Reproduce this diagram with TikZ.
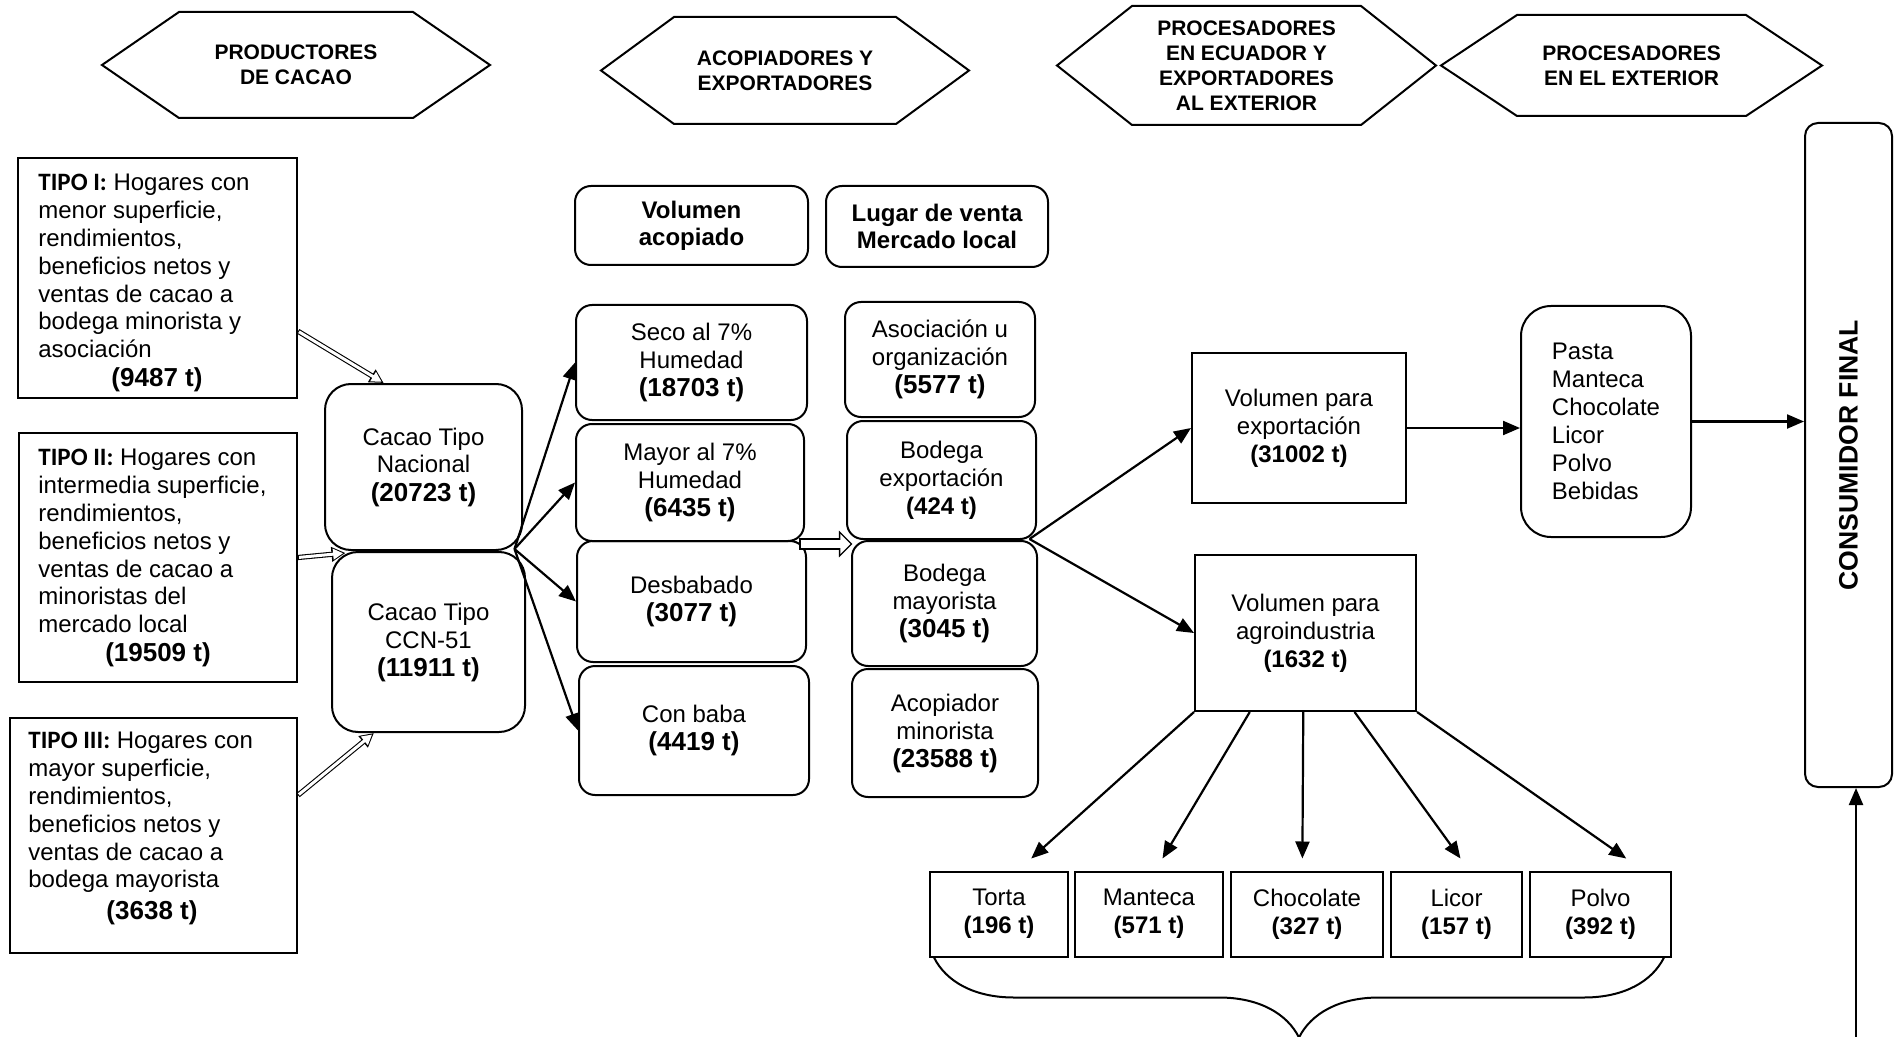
\documentclass[tikz,border=0pt]{standalone}
\usepackage{fontspec}
\setmainfont{Liberation Sans}
\newfontfamily\tipofont{Carlito}
\usetikzlibrary{positioning, arrows.meta, calc, decorations.pathreplacing}

\newcommand{\tval}[1]{{\bfseries\fontsize{13}{15}\selectfont #1}}
\newcommand{\tipo}[1]{{\tipofont\bfseries\fontsize{12.5}{13.9}\selectfont #1}}

\tikzset{
  box/.style={draw, line width=1pt, inner sep=0pt, align=center, font=\fontsize{12}{14}\selectfont},
  rbox/.style={box, rounded corners=8pt},
  cbox/.style={box, rounded corners=13pt},
  hdrbox/.style={rbox, font=\bfseries\fontsize{12}{13.5}\selectfont},
  tipotxt/.style={inner sep=0pt, align=left, font=\fontsize{12}{13.9}\selectfont},
  hexline/.style={line width=1pt, line join=miter},
  hexlab/.style={inner sep=0pt, align=center, font=\bfseries\fontsize{10.5}{12.5}\selectfont},
  arr/.style={-{Triangle[length=8.5pt, width=7pt]}, line width=1.1pt},
  % outlined block arrows: black body, white inner body on top
  hollow/.style={preaction={draw=black, line width=2.6pt, shorten <=0pt, shorten >=0pt,
      -{Triangle[length=7pt, width=7pt]}},
    draw=white, line width=1.5pt, shorten <=0.55pt, shorten >=1.2pt,
    -{Triangle[length=5pt, width=5.2pt]}},
  hollowbig/.style={preaction={draw=black, line width=5.6pt, shorten <=0pt, shorten >=0pt,
      -{Triangle[length=6.8pt, width=13pt]}},
    draw=white, line width=4.1pt, shorten <=0.75pt, shorten >=1.05pt,
    -{Triangle[length=5pt, width=9.6pt]}},
}

\begin{document}
\begin{tikzpicture}[x=0.5pt, y=-0.5pt]
\fill[white] (0,0) rectangle (1898,1037);
\useasboundingbox (0,0) rectangle (1898,1037);

% headers
\foreach \xl/\xr/\yt/\yb/\d/\nm/\txt in {
  102/490/12/118/77/h1/{PRODUCTORES\\DE CACAO},
  601/969/17/124/73/h2/{ACOPIADORES Y\\EXPORTADORES},
  1057/1436/6/125/75/h3/{PROCESADORES\\EN ECUADOR Y\\EXPORTADORES\\AL EXTERIOR},
  1441/1822/15/116/76/h4/{PROCESADORES\\EN EL EXTERIOR}}
{
  \draw[hexline] (\xl,{(\yt+\yb)/2}) -- ({\xl+\d},\yt) -- ({\xr-\d},\yt) -- (\xr,{(\yt+\yb)/2})
    -- ({\xr-\d},\yb) -- ({\xl+\d},\yb) -- cycle;
  \node[hexlab] (\nm) at ({(\xl+\xr)/2},{(\yt+\yb)/2}) {\txt};
}

% productores
\node[box, minimum width=139.5pt, minimum height=120pt] (t1) at (157.5,278) {};
\node[tipotxt, anchor=north west] (t1txt) at ([xshift=10.5pt, yshift=-8.5pt]t1.north west)
  {\tipo{TIPO I:} Hogares con\\menor superficie,\\rendimientos,\\beneficios netos y\\ventas de cacao a\\bodega minorista y\\asociación};
\node[inner sep=0pt] (t1num) at (157,380) {\tval{(9487 t)}};

\node[box, minimum width=139pt, minimum height=124.5pt] (t2) at (158,557.5) {};
\node[tipotxt, anchor=north west] (t2txt) at ([xshift=10pt, yshift=-8.5pt]t2.north west)
  {\tipo{TIPO II:} Hogares con\\intermedia superficie,\\rendimientos,\\beneficios netos y\\ventas de cacao a\\minoristas del\\mercado local};
\node[inner sep=0pt] (t2num) at (158,655) {\tval{(19509 t)}};

\node[box, minimum width=143.5pt, minimum height=117.5pt] (t3) at (153.5,835.5) {};
\node[tipotxt, anchor=north west] (t3txt) at ([xshift=9.5pt, yshift=-7.5pt]t3.north west)
  {\tipo{TIPO III:} Hogares con\\mayor superficie,\\rendimientos,\\beneficios netos y\\ventas de cacao a\\bodega mayorista};
\node[inner sep=0pt] (t3num) at (152,913) {\tval{(3638 t)}};

\node[cbox, minimum width=98.5pt, minimum height=83pt] (nac) at (423.5,467) {Cacao Tipo\\Nacional\\\tval{(20723 t)}};
\node[cbox, minimum width=96.5pt, minimum height=90pt] (ccn) at (428.5,642) {Cacao Tipo\\CCN-51\\\tval{(11911 t)}};

% acopiadores
\node[hdrbox, minimum width=116.5pt, minimum height=39.5pt] (hv) at (691.5,225.5) {Volumen\\acopiado};
\node[hdrbox, minimum width=111pt, minimum height=40.5pt] (hl) at (937,226.5) {Lugar de venta\\Mercado local};

\node[rbox, minimum width=115.5pt, minimum height=57.5pt] (seco) at (691.5,362.5) {Seco al 7\%\\Humedad\\\tval{(18703 t)}};
\node[rbox, minimum width=114pt, minimum height=58.5pt] (mayor) at (690,482.5) {Mayor al 7\%\\Humedad\\\tval{(6435 t)}};
\node[rbox, minimum width=114.5pt, minimum height=60.5pt] (desb) at (691.5,601.5) {Desbabado\\\tval{(3077 t)}};
\node[rbox, minimum width=115pt, minimum height=64.5pt] (conb) at (694,730.5) {Con baba\\\tval{(4419 t)}};

\node[rbox, minimum width=95pt, minimum height=57.5pt] (asoc) at (940,359.5) {Asociación u\\organización\\\tval{(5577 t)}};
\node[rbox, minimum width=94.5pt, minimum height=59pt] (bexp) at (941.5,480) {Bodega\\exportación\\\textbf{(424 t)}};
\node[rbox, minimum width=92.5pt, minimum height=62.5pt] (bmay) at (944.5,603.5) {Bodega\\mayorista\\\tval{(3045 t)}};
\node[rbox, minimum width=93pt, minimum height=64pt] (acop) at (945,733) {Acopiador\\minorista\\\tval{(23588 t)}};

% procesadores
\node[box, minimum width=107pt, minimum height=75pt] (exp) at (1299,428) {Volumen para\\exportación\\\textbf{(31002 t)}};
\node[box, minimum width=110.5pt, minimum height=78pt] (agro) at (1305.5,633) {Volumen para\\agroindustria\\\textbf{(1632 t)}};
\node[box, rounded corners=15pt, minimum width=85pt, minimum height=115.5pt, align=left] (pasta) at (1606,421.5)
  {Pasta\\Manteca\\Chocolate\\Licor\\Polvo\\Bebidas};
\node[box, rounded corners=6.5pt, minimum width=43.5pt, minimum height=332pt,
  font=\bfseries\fontsize{13.3}{15}\selectfont] (cons) at (1848.5,455) {\rotatebox{90}{CONSUMIDOR FINAL}};

\foreach \nm/\xx/\ww/\lab/\val in {torta/999/69/Torta/196, mant/1149/74/Manteca/571,
    choc/1307/76/Chocolate/327, licor/1456.5/65.5/Licor/157, polvo/1600.5/70.5/Polvo/392}
  \node[box, minimum width=\ww pt, minimum height=42.5pt] (\nm) at (\xx,914) {\lab\\\textbf{(\val\ t)}};

% junctions
\coordinate (cj) at ($(nac.south east)!0.5!(ccn.north east)+(-10,-2)$);
\coordinate (mj) at ($(mayor.south east)!0.5!(desb.north east)+(-7,3)$);
\coordinate (bj) at ($(bexp.south east)!0.5!(bmay.north east)+(-8,-1)$);
\coordinate (bl) at ($(bexp.south west)!0.5!(bmay.north west)+(4,4)$);
\coordinate (cbot) at (1856,1037);

% connectors
\draw[hollow] ($(t1.north east)!0.72!(t1.south east)$) -- ($(nac.north west)!0.3!(nac.north east)$);
\draw[hollow] (t2.east) -- ($(nac.south west)!0.5!(ccn.north west)+(18,2)$);
\draw[hollow] ($(t3.north east)!0.33!(t3.south east)$) -- ($(ccn.south west)!0.22!(ccn.south east)$);

\foreach \b in {seco,mayor,desb,conb}
  \draw[arr] (cj) -- (\b.west);

\draw[hollowbig] (mj) -- (bl);

\draw[arr] (bj) -- (exp.west);
\draw[arr] (bj) -- (agro.west);
\draw[arr] (exp.east) -- (exp.east -| pasta.west);
\draw[arr] (pasta.east) -- (pasta.east -| cons.west);

\foreach \f/\b/\g in {0/torta/0.73, 0.25/mant/0.59, 0.49/choc/0.47, 0.72/licor/0.53, 1/polvo/0.68}
  \draw[arr] ($(agro.south west)!\f!(agro.south east)$) -- ($(\b.north west)!\g!(\b.north east)+(0,-12)$);

\draw[arr] (cbot) -- (cbot |- cons.south);

\draw[line width=1pt, decorate, decoration={brace, mirror, amplitude=40pt}]
  ([xshift=2.5pt]torta.south west) -- ([xshift=-4pt]polvo.south east);
\end{tikzpicture}
\end{document}
